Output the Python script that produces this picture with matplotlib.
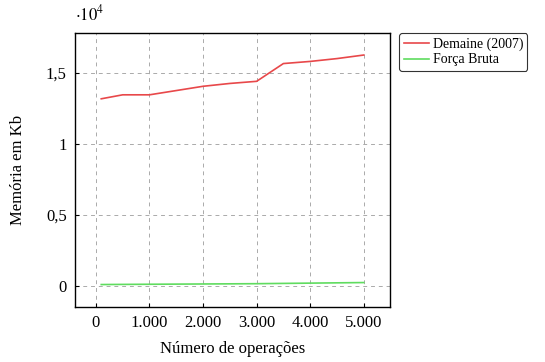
import numpy as np
import matplotlib.pyplot as plt
from matplotlib.ticker import FuncFormatter

plt.rcParams['font.family'] = ['Liberation Serif', 'DejaVu Serif']
plt.rcParams['mathtext.fontset'] = 'stix'

# dados
ops = [100, 500, 1000, 1500, 2000, 2500, 3000, 3500, 4000, 4500, 5000]
demaine = [13170, 13450, 13450, 13750, 14050, 14250, 14400, 15650, 15800, 16000, 16250]
forca_bruta = [100, 110, 120, 130, 140, 150, 160, 180, 200, 220, 240]

xticks = [0, 1000, 2000, 3000, 4000, 5000]
xticklabels = ['0', '1.000', '2.000', '3.000', '4.000', '5.000']
yticks = [0, 5000, 10000, 15000]
yticklabels = ['0', '0,5', '1', '1,5']

fig = plt.figure(figsize=(5.45, 3.62), dpi=100)
ax = fig.add_axes([75/545, 1-307/362, 315/545, 274/362])

ax.plot(ops, demaine, color='#e8484a', lw=1.2, label='Demaine (2007)')
ax.plot(ops, forca_bruta, color='#5fdc5f', lw=1.2, label='Força Bruta')

ax.set_xlim(-390, 5490)
ax.set_ylim(-1480, 17800)
ax.set_xticks(xticks)
ax.set_xticklabels(xticklabels)
ax.set_yticks(yticks)
ax.set_yticklabels(yticklabels)
ax.tick_params(direction='in', length=3, labelsize=12, colors='black', pad=6)
ax.grid(True, linestyle=(0, (4, 4)), color='#aaaaaa', lw=0.7)
for s in ax.spines.values():
    s.set_linewidth(1.0)

ax.set_xlabel('Número de operações', fontsize=12, labelpad=7)
ax.set_ylabel('Memória em Kb', fontsize=12, labelpad=14)
ax.text(0.0, 1.03, r'$\cdot10^4$', transform=ax.transAxes, fontsize=12, ha='left', va='bottom')

leg = ax.legend(loc='upper left', bbox_to_anchor=(1.03, 1.0), fontsize=10, frameon=True,
                fancybox=True, edgecolor='black', handlelength=1.8, handletextpad=0.3,
                borderpad=0.3, labelspacing=0.2, borderaxespad=0)
leg.get_frame().set_linewidth(0.8)

fig.savefig('out.png', dpi=100)
